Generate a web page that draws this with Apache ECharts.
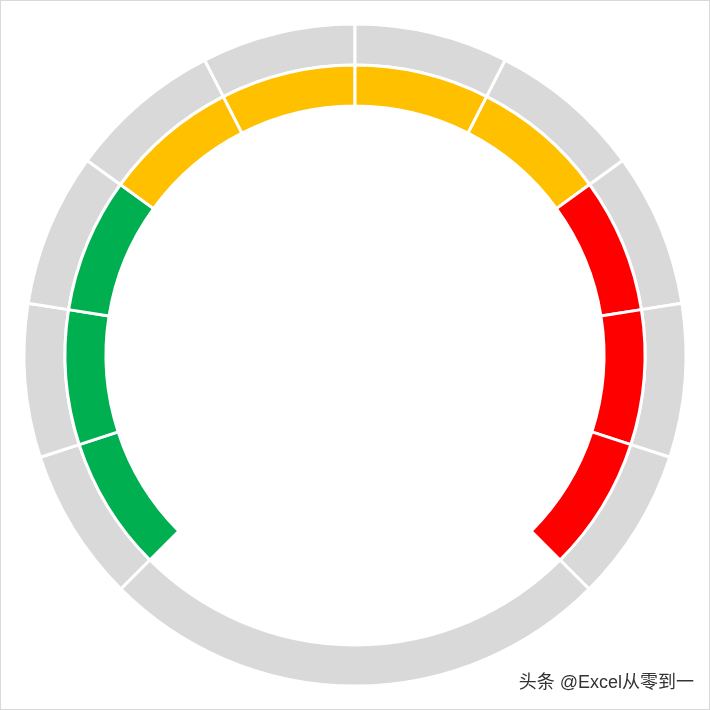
<!DOCTYPE html>
<html>
<head>
<meta charset="utf-8">
<script src="https://cdn.jsdelivr.net/npm/echarts@6/dist/echarts.min.js"></script>
<style>
  html, body { margin: 0; padding: 0; background: #fff; }
  #chart { width: 708px; height: 708px; border: 1px solid #d9d9d9; }
</style>
</head>
<body>
<div id="chart"></div>
<script>
// ring made of 10 equal steps of 27 degrees plus a 90 degree gap at the bottom
const stepValues = [27, 27, 27, 27, 27, 27, 27, 27, 27, 27, 90];
const outerColors = ['#d9d9d9', '#d9d9d9', '#d9d9d9', '#d9d9d9', '#d9d9d9',
    '#d9d9d9', '#d9d9d9', '#d9d9d9', '#d9d9d9', '#d9d9d9', '#d9d9d9'];
const innerColors = ['#00b050', '#00b050', '#00b050', '#ffc000', '#ffc000',
    '#ffc000', '#ffc000', '#ff0000', '#ff0000', '#ff0000', 'transparent'];
const watermark = '头条 @Excel从零到一';

const make_ring = (values, colors, radius, name) => ({
    name: name,
    type: 'pie',
    center: [354, 354],
    radius: radius,
    startAngle: 225,
    clockwise: true,
    silent: true,
    label: { show: false },
    labelLine: { show: false },
    emphasis: { disabled: true },
    data: values.map((v, i) => ({
        value: v,
        itemStyle: {
            color: colors[i],
            borderColor: '#fff',
            borderWidth: colors[i] === 'transparent' ? 0 : 3
        }
    }))
});

const chart = echarts.init(document.getElementById('chart'));
chart.setOption({
    backgroundColor: '#fff',
    animation: false,
    series: [
        make_ring(stepValues, outerColors, [290, 331], 'outer'),
        make_ring(stepValues, innerColors, [249, 290], 'inner')
    ],
    graphic: [{
        type: 'text',
        right: 14,
        top: 672,
        style: {
            text: watermark,
            fill: '#333',
            font: '18px "Liberation Sans", "Noto Sans CJK SC", sans-serif',
            stroke: '#fff',
            lineWidth: 2
        }
    }]
});
</script>
</body>
</html>
